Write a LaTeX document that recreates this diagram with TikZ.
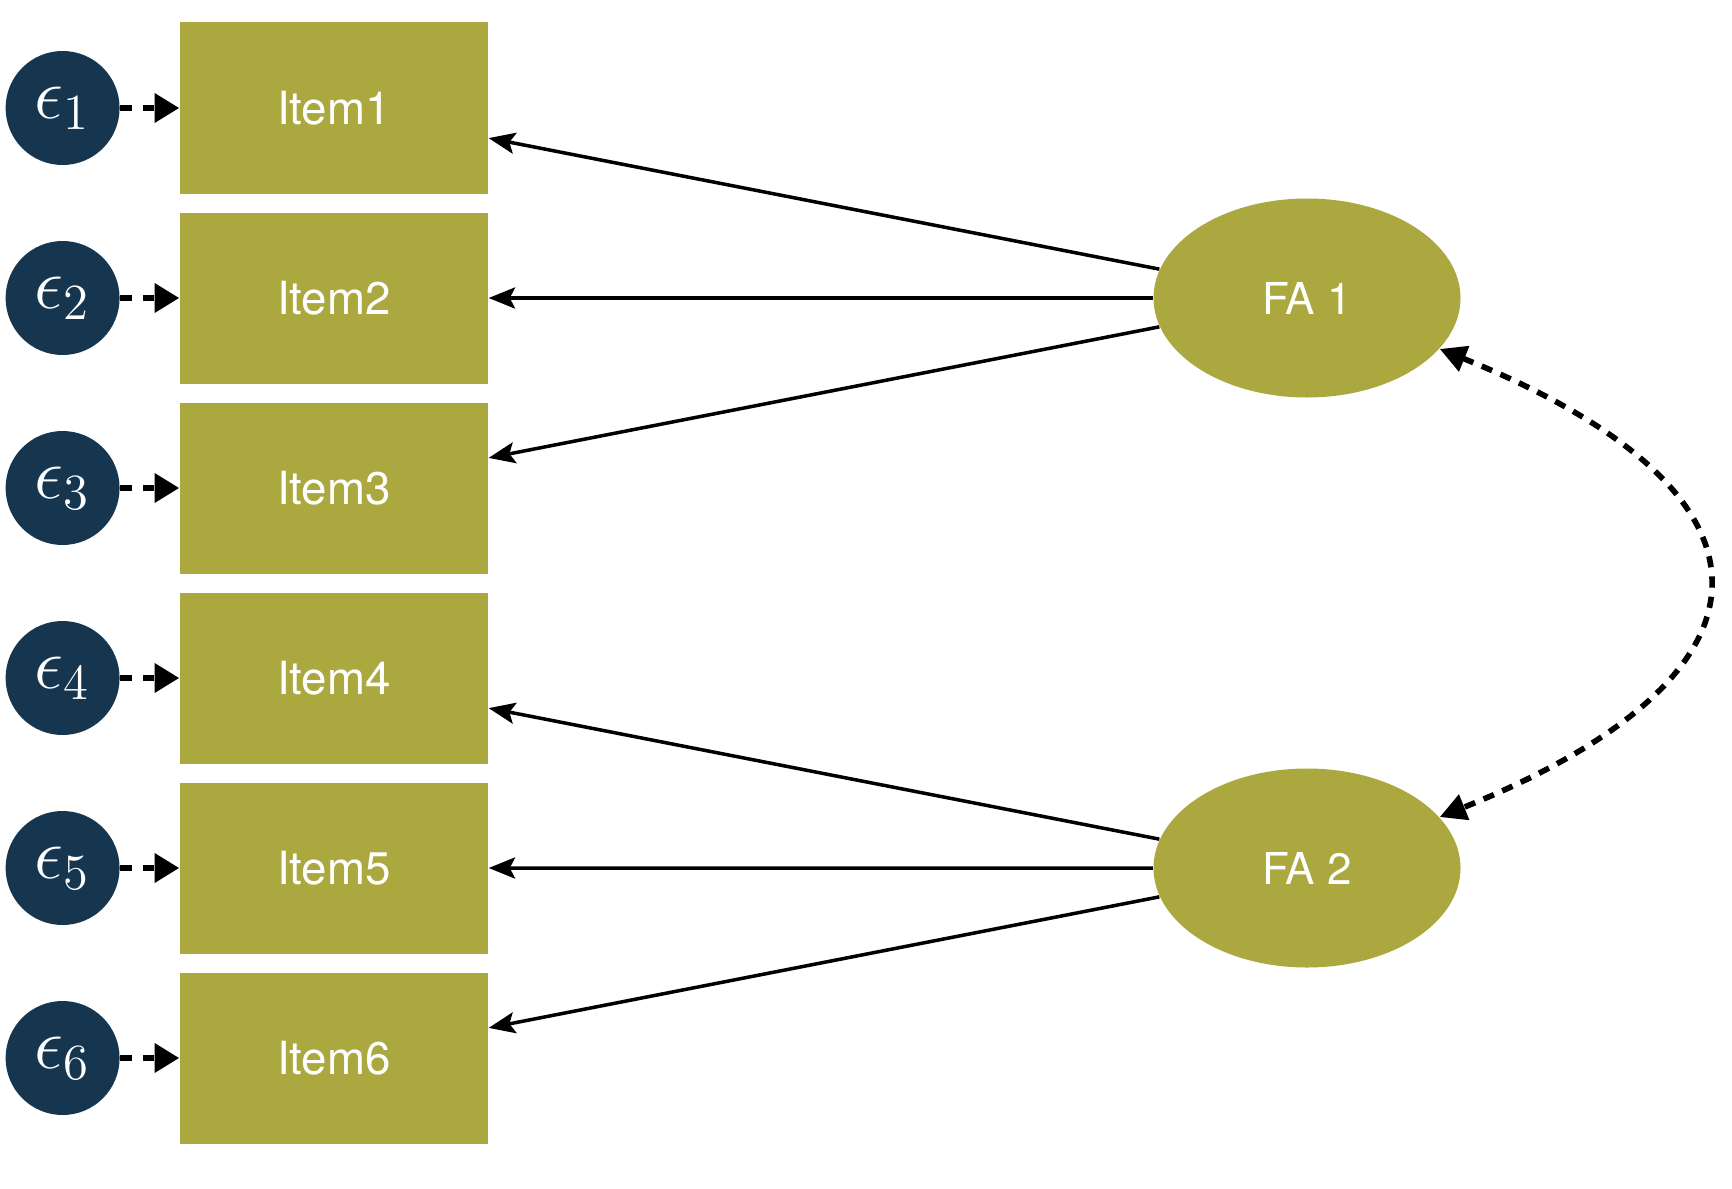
\documentclass[tikz,border=0pt]{standalone}
\usepackage{fontspec}
\setsansfont{TeX Gyre Heros}
\usetikzlibrary{arrows.meta,positioning,shapes.geometric}
\definecolor{itemolive}{HTML}{AAA83E}
\definecolor{errnavy}{HTML}{163650}
\tikzset{
  itembox/.style={rectangle, fill=itemolive, minimum width=3.08cm, minimum height=1.71cm,
    text=white, font=\sffamily\fontsize{13}{15}\selectfont},
  errnode/.style={circle, fill=errnavy, minimum size=1.14cm, inner sep=0pt, text=white, font=\huge},
  factor/.style={ellipse, fill=itemolive, minimum width=3.07cm, minimum height=1.99cm, inner sep=0pt,
    text=white, font=\sffamily\fontsize{12.5}{15}\selectfont},
  load/.style={-{Stealth[length=7.5pt,width=6pt,inset=1.5pt]}, line width=1pt},
  errarrow/.style={-{Triangle[length=7pt,width=8pt]}, line width=1.7pt, dash pattern=on 3.2pt off 3.2pt},
  corr/.style={{Triangle[length=7.5pt,width=7.5pt]}-{Triangle[length=7.5pt,width=7.5pt]}, line width=1.6pt, dash pattern=on 3.2pt off 2.6pt}
}
\begin{document}
\begin{tikzpicture}
\useasboundingbox (0,0) rectangle (17.32,11.88);

% items and their errors
\foreach \i in {1,...,6} {
    \node[itembox] (item\i) at (3.34, 12.70-1.90*\i) {Item\i};
    \node[errnode, left=0.59cm of item\i] (err\i) {$\epsilon_{\i}$};
    \draw[errarrow] (err\i) -- (item\i);
}

% factors
\node[factor] (fa1) at (13.07, 8.90) {FA 1};
\node[factor] (fa2) at (13.07, 3.20) {FA 2};

\foreach \i in {1,2,3}
    \draw[load] (fa1) -- (item\i);
\foreach \i in {4,5,6}
    \draw[load] (fa2) -- (item\i);

\draw[corr] (fa1.-21) to[out=-22, in=22, looseness=2.1] (fa2.21);
\end{tikzpicture}
\end{document}
